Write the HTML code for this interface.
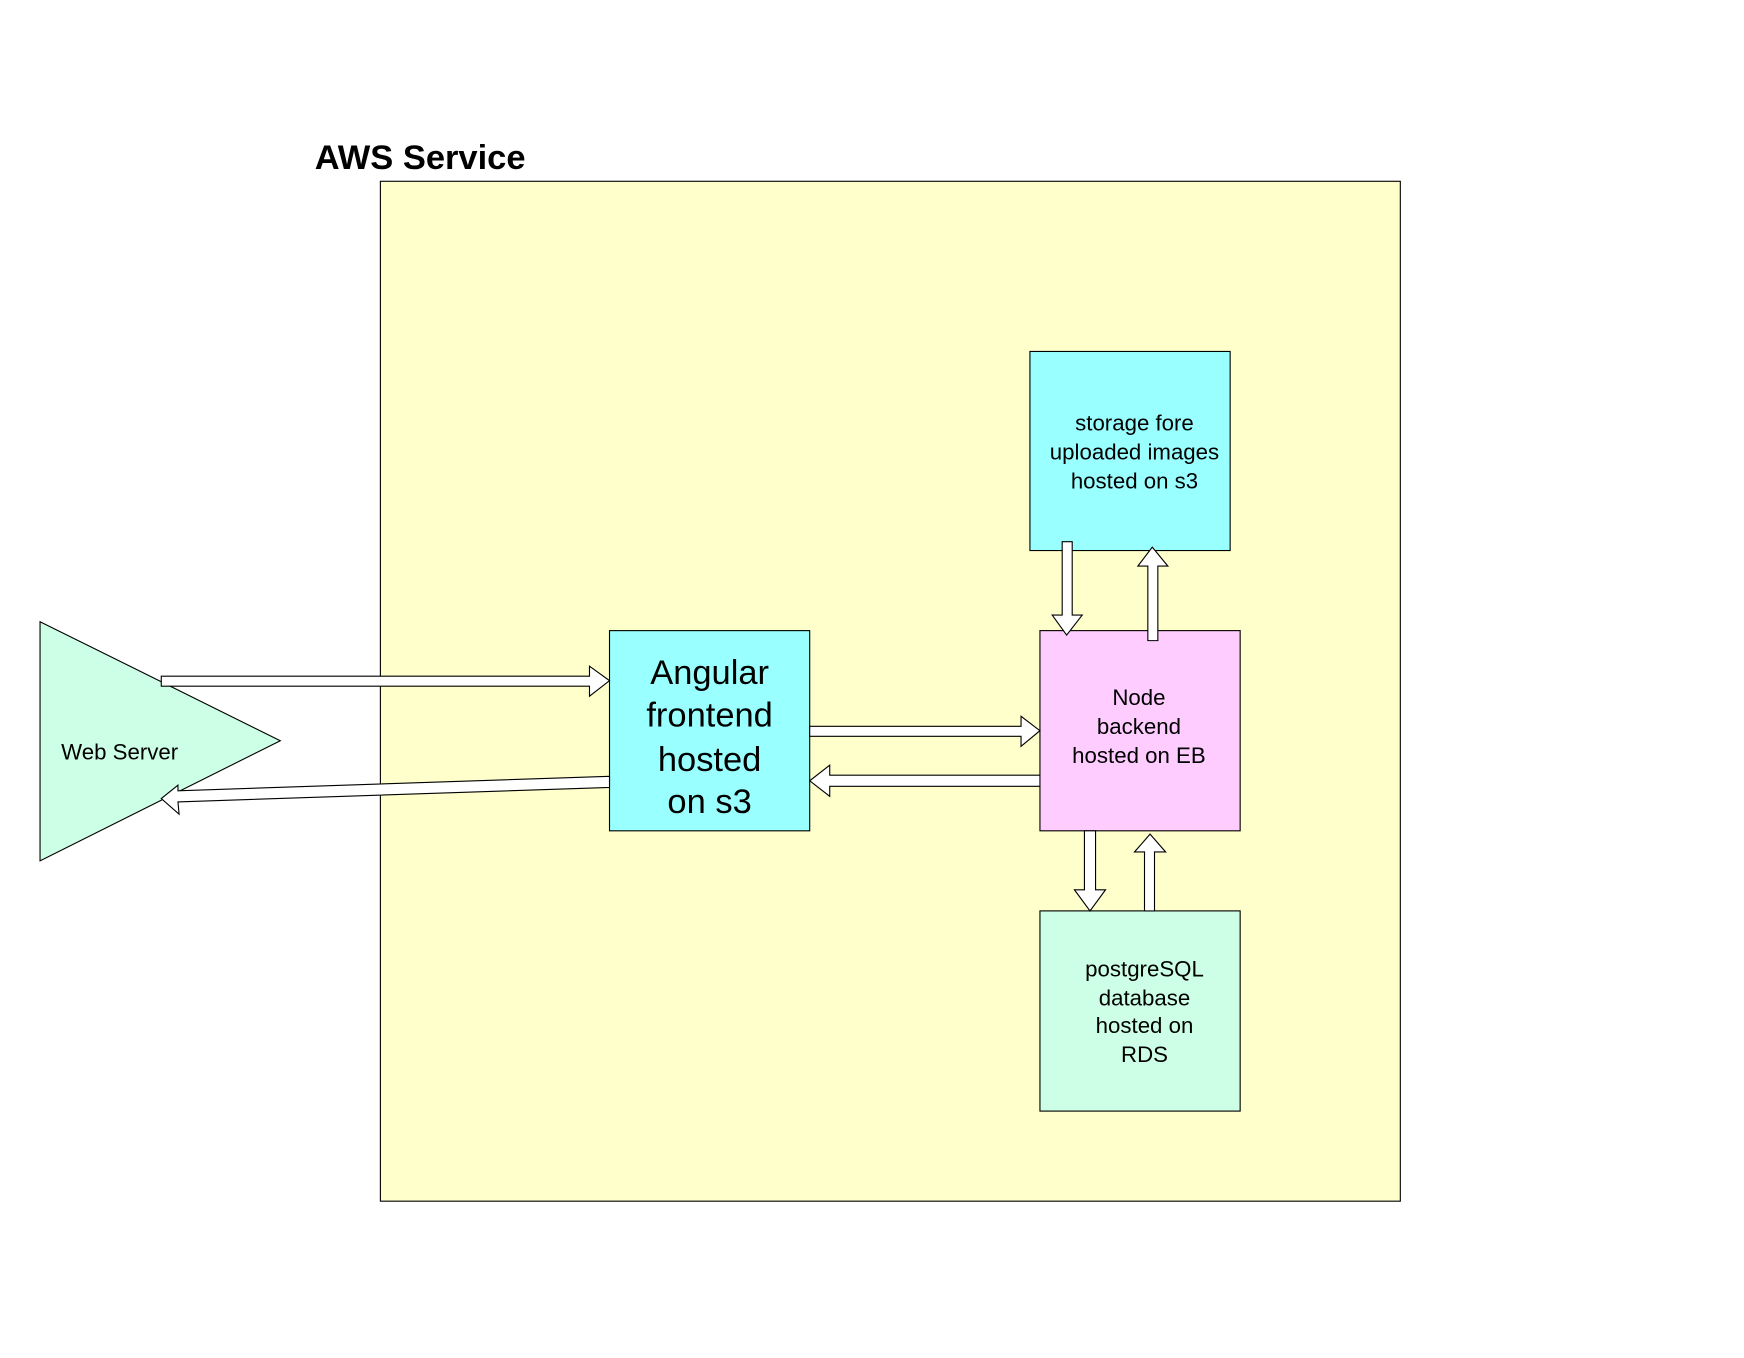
<!DOCTYPE html>
<html><head><meta charset="utf-8"><style>
html,body{margin:0;padding:0;background:#fff;}
svg{display:block;}
text{font-family:"Liberation Sans",Arial,sans-serif;fill:#000;}
</style></head><body>
<svg width="1744" height="1358" viewBox="0 0 1568 1221" preserveAspectRatio="none" xmlns="http://www.w3.org/2000/svg">
<rect x="0" y="0" width="1568" height="1221" fill="#fff"/>
<text x="283" y="152" font-size="31" font-weight="bold">AWS Service</text>
<rect x="342" y="163" width="917" height="917" fill="#ffffcc" stroke="#000" stroke-width="1"/>
<rect x="926" y="316" width="180" height="179" fill="#99ffff" stroke="#000" stroke-width="1"/>
<g font-size="20" text-anchor="middle">
<text x="1020" y="387">storage fore</text>
<text x="1020" y="413">uploaded images</text>
<text x="1020" y="439">hosted on s3</text>
</g>
<rect x="548" y="567" width="180" height="180" fill="#99ffff" stroke="#000" stroke-width="1"/>
<g font-size="31" text-anchor="middle">
<text x="638" y="615">Angular</text>
<text x="638" y="653">frontend</text>
<text x="638" y="693">hosted</text>
<text x="638" y="731">on s3</text>
</g>
<rect x="935" y="567" width="180" height="180" fill="#ffccff" stroke="#000" stroke-width="1"/>
<g font-size="20" text-anchor="middle">
<text x="1024" y="634">Node</text>
<text x="1024" y="660">backend</text>
<text x="1024" y="686">hosted on EB</text>
</g>
<rect x="935" y="819" width="180" height="180" fill="#ccffe6" stroke="#000" stroke-width="1"/>
<g font-size="20" text-anchor="middle">
<text x="1029" y="878">postgreSQL</text>
<text x="1029" y="904">database</text>
<text x="1029" y="929">hosted on</text>
<text x="1029" y="955">RDS</text>
</g>
<polygon points="36,559 252,666 36,774" fill="#ccffe6" stroke="#000" stroke-width="1"/>
<text x="55" y="683" font-size="20">Web Server</text>
<g fill="#fff" stroke="#000" stroke-width="1" stroke-linejoin="miter">
<polygon points="145,608 530,608 530,599 548,612 530,626 530,617 145,617"/>
<polygon points="548,698 160,711 160,706 145,718 161,732 160,721 548,708"/>
<polygon points="728,653 918,653 918,644 935,657 918,671 918,662 728,662"/>
<polygon points="935,697 746,697 746,688 728,702 746,716 746,707 935,707"/>
<polygon points="955,487 964,487 964,553 973,553 959,571 946,553 955,553"/>
<polygon points="1032,576 1041,576 1041,509 1050,509 1036,492 1023,509 1032,509"/>
<polygon points="975,747 985,747 985,800 994,800 980,819 966,800 975,800"/>
<polygon points="1029,819 1038,819 1038,766 1048,766 1034,750 1020,766 1029,766"/>
</g>
</svg>
</body></html>
